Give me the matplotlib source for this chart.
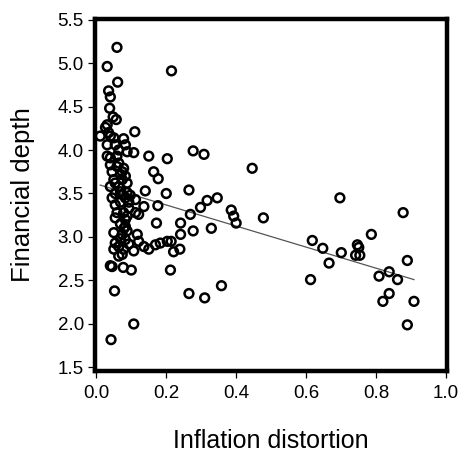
import numpy as np
import matplotlib
matplotlib.use("Agg")
import matplotlib.pyplot as plt

plt.rcParams['font.family'] = ['Liberation Sans', 'DejaVu Sans']

# inflation distortion (x) and financial depth (y)
infl = [0.059, 0.031, 0.215, 0.061, 0.035, 0.040, 0.038, 0.048, 0.057, 0.031,
        0.026, 0.011, 0.035, 0.040, 0.050, 0.078, 0.110, 0.031, 0.054, 0.083,
        0.088, 0.107, 0.031, 0.040, 0.059, 0.150, 0.203, 0.277, 0.308, 0.040,
        0.059, 0.078, 0.446, 0.164, 0.177, 0.045, 0.074, 0.083, 0.050, 0.074,
        0.040, 0.054, 0.140, 0.200, 0.265, 0.317, 0.346, 0.697, 0.298, 0.269,
        0.386, 0.393, 0.400, 0.478, 0.277, 0.329, 0.241, 0.241, 0.239,
        0.054, 0.074, 0.097, 0.088, 0.112, 0.136, 0.176, 0.054, 0.059, 0.078,
        0.093, 0.112, 0.121, 0.054, 0.083, 0.083, 0.088, 0.172, 0.050, 0.074,
        0.083, 0.117, 0.121, 0.054, 0.064, 0.050, 0.078, 0.074, 0.064, 0.107,
        0.136, 0.150, 0.169, 0.183, 0.203, 0.214, 0.221, 0.040, 0.045, 0.077,
        0.100, 0.212, 0.052, 0.107, 0.042, 0.265, 0.310, 0.358,
        0.064, 0.069, 0.088, 0.083, 0.069, 0.093, 0.088, 0.069, 0.079, 0.093,
        0.069, 0.064, 0.045, 0.064, 0.069,
        0.618, 0.648, 0.666, 0.613, 0.701, 0.747, 0.751, 0.742, 0.754, 0.787,
        0.878, 0.890, 0.838, 0.809, 0.862, 0.838, 0.820, 0.909, 0.890]
depth = [5.18, 4.96, 4.91, 4.78, 4.68, 4.61, 4.48, 4.38, 4.35, 4.29,
         4.26, 4.16, 4.20, 4.16, 4.14, 4.13, 4.21, 4.06, 4.06, 4.06,
         3.98, 3.97, 3.93, 3.91, 3.93, 3.93, 3.90, 3.99, 3.95, 3.83,
         3.81, 3.79, 3.79, 3.75, 3.67, 3.75, 3.75, 3.70, 3.66, 3.66,
         3.58, 3.62, 3.53, 3.50, 3.54, 3.42, 3.45, 3.45, 3.34, 3.26,
         3.31, 3.24, 3.16, 3.22, 3.07, 3.10, 3.16, 3.03, 2.86,
         3.50, 3.49, 3.48, 3.51, 3.43, 3.35, 3.36, 3.37, 3.28, 3.28,
         3.33, 3.28, 3.26, 3.22, 3.20, 3.12, 3.07, 3.16, 3.05, 3.03,
         2.97, 3.03, 2.95, 2.93, 2.89, 2.86, 2.86, 2.80, 2.78, 2.84,
         2.89, 2.86, 2.91, 2.93, 2.95, 2.95, 2.83, 2.67, 2.66, 2.65,
         2.62, 2.62, 2.38, 2.00, 1.82, 2.35, 2.30, 2.44,
         3.85, 3.72, 3.62, 3.45, 3.40, 3.40, 3.24, 3.15, 3.10, 2.92,
         2.98, 3.58, 3.45, 4.00, 3.52,
         2.96, 2.87, 2.70, 2.51, 2.82, 2.91, 2.88, 2.79, 2.79, 3.03,
         3.28, 2.73, 2.60, 2.55, 2.51, 2.35, 2.26, 2.26, 1.99]

# fitted line
fit_intercept = 3.61
fit_slope = -1.21
fit_x = [0.011, 0.909]

infl = np.array(infl)
depth = np.array(depth)

fig = plt.figure(figsize=(4.61, 4.59), dpi=100)
ax = fig.add_axes([0.206, 0.1924, 0.764, 0.766])

ax.scatter(infl, depth, s=40, facecolors='none', edgecolors='black',
           linewidths=1.8, clip_on=False, zorder=3)

xl = np.array(fit_x)
ax.plot(xl, fit_intercept + fit_slope * xl, color='#555555', lw=0.9, zorder=2)

ax.set_xlim(-0.004, 1.004)
ax.set_ylim(1.463, 5.505)
ax.set_xticks([0.0, 0.2, 0.4, 0.6, 0.8, 1.0])
ax.set_yticks([1.5, 2.0, 2.5, 3.0, 3.5, 4.0, 4.5, 5.0, 5.5])
ax.xaxis.set_major_formatter(matplotlib.ticker.FormatStrFormatter('%.1f'))
ax.yaxis.set_major_formatter(matplotlib.ticker.FormatStrFormatter('%.1f'))

for sp in ax.spines.values():
    sp.set_linewidth(3.2)
ax.tick_params(direction='out', length=5, width=0.9, labelsize=13.5)
ax.tick_params(axis='x', pad=5)
ax.tick_params(axis='y', pad=3)

ax.set_xlabel('Inflation distortion', fontsize=18, labelpad=20)
ax.set_ylabel('Financial depth', fontsize=18.5, labelpad=16)

fig.savefig('out.png', dpi=100)
